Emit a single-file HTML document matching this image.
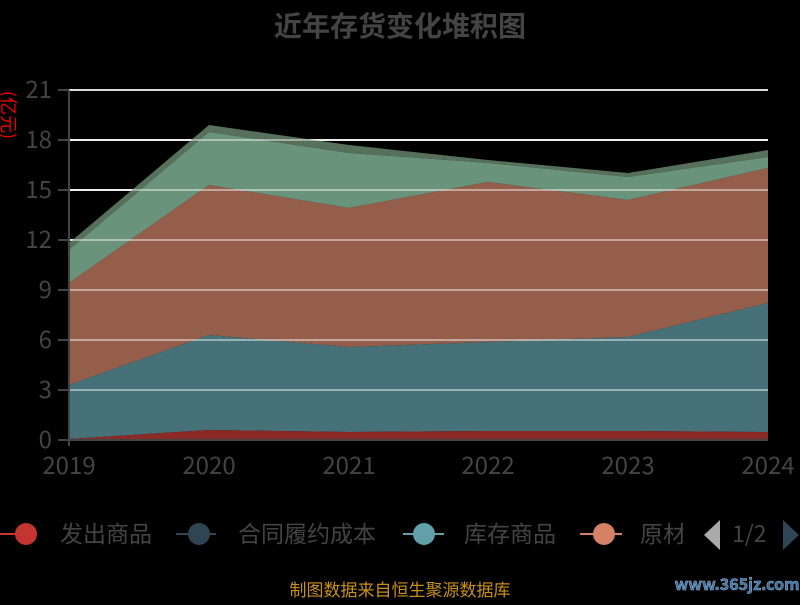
<!DOCTYPE html>
<html><head><meta charset="utf-8"><style>
body{margin:0;background:#000;width:800px;height:600px;overflow:hidden}
svg text{font-family:"Noto Sans CJK SC","Liberation Sans",sans-serif}
</style></head><body>
<svg width="800" height="600" xmlns="http://www.w3.org/2000/svg">
<rect width="800" height="600" fill="#000"/>
<text x="400" y="36" text-anchor="middle" font-size="28" font-weight="bold" fill="#444">近年存货变化堆积图</text>
<g stroke="#ddd" stroke-width="2">
<line x1="69" y1="90" x2="768" y2="90"/><line x1="69" y1="140" x2="768" y2="140"/>
<line x1="69" y1="190" x2="768" y2="190"/><line x1="69" y1="240" x2="768" y2="240"/>
<line x1="69" y1="290" x2="768" y2="290"/><line x1="69" y1="340" x2="768" y2="340"/>
<line x1="69" y1="390" x2="768" y2="390"/>
</g>
<polygon fill="#56705c" points="69,243 209,125 349,145 488,160 628,173 768,150 768,157 628,177 488,163 349,153 209,132 69,250"/>
<polygon fill="#6a937c" points="69,250 209,132 349,153 488,163 628,177 768,157 768,168 628,200 488,182 349,208 209,185 69,283"/>
<polygon fill="#955e4b" points="69,283 209,185 349,208 488,182 628,200 768,168 768,303 628,337 488,342 349,347 209,335 69,385"/>
<polygon fill="#467178" points="69,385 209,335 349,347 488,342 628,337 768,303 768,432 628,431 488,431 349,432 209,430 69,439"/>
<polygon fill="#8b2a26" points="69,439 209,430 349,432 488,431 628,431 768,432 768,440 69,440"/>
<g stroke="#fff" stroke-width="2" opacity="0.45">
<line x1="69" y1="140" x2="768" y2="140"/><line x1="69" y1="190" x2="768" y2="190"/><line x1="69" y1="240" x2="768" y2="240"/>
<line x1="69" y1="290" x2="768" y2="290"/><line x1="69" y1="340" x2="768" y2="340"/><line x1="69" y1="390" x2="768" y2="390"/>
</g>
<g stroke="#444" stroke-width="2">
<line x1="69" y1="90" x2="69" y2="446"/><line x1="58" y1="440" x2="768" y2="440"/>
<line x1="58" y1="90" x2="69" y2="90"/><line x1="58" y1="140" x2="69" y2="140"/><line x1="58" y1="190" x2="69" y2="190"/>
<line x1="58" y1="240" x2="69" y2="240"/><line x1="58" y1="290" x2="69" y2="290"/><line x1="58" y1="340" x2="69" y2="340"/><line x1="58" y1="390" x2="69" y2="390"/>
</g>
<g font-size="24" fill="#444" text-anchor="end">
<text x="52" y="98">21</text><text x="52" y="148">18</text><text x="52" y="198">15</text><text x="52" y="248">12</text>
<text x="52" y="298">9</text><text x="52" y="348">6</text><text x="52" y="398">3</text><text x="52" y="448">0</text>
</g>
<g font-size="24" fill="#444" text-anchor="middle">
<text x="69" y="474">2019</text><text x="209" y="474">2020</text><text x="349" y="474">2021</text>
<text x="488" y="474">2022</text><text x="628" y="474">2023</text><text x="768" y="474">2024</text>
</g>
<text transform="translate(2,115) rotate(90)" text-anchor="middle" font-size="18" fill="#e00">(亿元)</text>
<g font-size="23" fill="#444">
<line x1="0" y1="534" x2="34" y2="534" stroke="#c23531" stroke-width="2"/><circle cx="26" cy="534" r="11" fill="#c23531"/>
<text x="60" y="542">发出商品</text>
<line x1="176" y1="534" x2="216" y2="534" stroke="#2f4554" stroke-width="2"/><circle cx="199" cy="534" r="11" fill="#2f4554"/>
<text x="238" y="542">合同履约成本</text>
<line x1="403" y1="534" x2="444" y2="534" stroke="#61a0a8" stroke-width="2"/><circle cx="424" cy="534" r="11" fill="#61a0a8"/>
<text x="464" y="542">库存商品</text>
<line x1="580" y1="534" x2="622" y2="534" stroke="#d48265" stroke-width="2"/><circle cx="604" cy="534" r="11" fill="#d48265"/>
<text x="640" y="542">原材</text>
</g>
<rect x="683" y="510" width="20" height="40" fill="#000"/>
<polygon points="720,520 720,550 704,535" fill="#aaa"/>
<text x="732" y="542" font-size="23" fill="#444">1/2</text>
<polygon points="783,520 783,550 799,535" fill="#2f4554"/>
<text x="400" y="596" text-anchor="middle" font-size="17" fill="#c8901a">制图数据来自恒生聚源数据库</text>
<text x="737" y="590" text-anchor="middle" font-size="16" font-weight="bold" fill="#3a6ea8" stroke="#9bc" stroke-width="0.5">www.365jz.com</text>
</svg>
</body></html>
